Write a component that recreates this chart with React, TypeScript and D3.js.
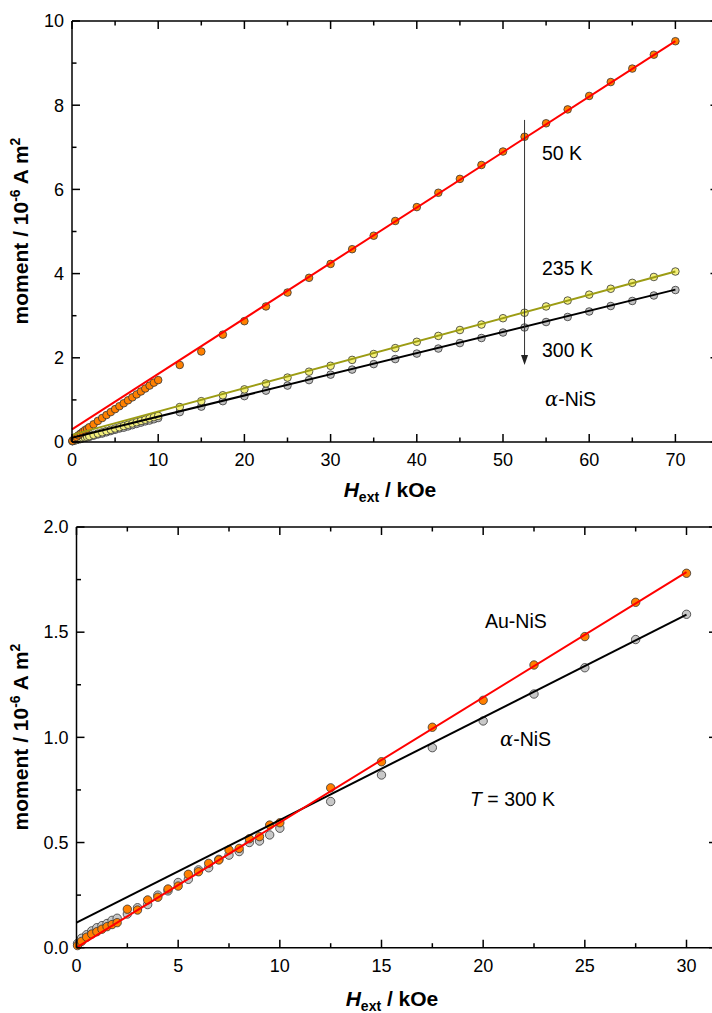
import React from 'react';
import * as d3 from 'd3';

// ---------- top panel (alpha-NiS, 50/235/300 K) ----------
const lowField = [0.05, 0.25, 0.5, 0.75, 1, 1.25, 1.5, 1.75, 2, 2.5, 3, 3.5, 4, 4.5, 5, 5.5, 6, 6.5, 7, 7.5, 8, 8.5, 9, 9.5, 10];
const highFieldTop = [12.5, 15, 17.5, 20, 22.5, 25, 27.5, 30, 32.5, 35, 37.5, 40, 42.5, 45, 47.5, 50, 52.5, 55, 57.5, 60, 62.5, 65, 67.5, 70];

const m50Low = [0.03, 0.07, 0.12, 0.16, 0.2, 0.24, 0.28, 0.31, 0.35, 0.42, 0.5, 0.57, 0.64, 0.71, 0.78, 0.85, 0.92, 0.99, 1.06, 1.13, 1.2, 1.27, 1.34, 1.41, 1.47];
const m50High = [1.83, 2.15, 2.55, 2.87, 3.22, 3.55, 3.9, 4.23, 4.58, 4.9, 5.25, 5.58, 5.92, 6.25, 6.58, 6.9, 7.25, 7.57, 7.9, 8.22, 8.55, 8.87, 9.2, 9.52];
const m235Low = [0.02, 0.04, 0.05, 0.07, 0.08, 0.1, 0.11, 0.12, 0.14, 0.17, 0.2, 0.23, 0.26, 0.29, 0.32, 0.35, 0.38, 0.41, 0.44, 0.47, 0.5, 0.53, 0.56, 0.59, 0.62];
const m235High = [0.83, 0.97, 1.11, 1.25, 1.39, 1.53, 1.67, 1.81, 1.95, 2.09, 2.23, 2.38, 2.52, 2.66, 2.79, 2.94, 3.07, 3.22, 3.36, 3.5, 3.64, 3.78, 3.92, 4.05];
const m300Low = [0.02, 0.03, 0.05, 0.06, 0.07, 0.09, 0.1, 0.11, 0.12, 0.15, 0.18, 0.2, 0.23, 0.26, 0.29, 0.32, 0.34, 0.37, 0.4, 0.43, 0.46, 0.49, 0.51, 0.54, 0.57];
const m300High = [0.71, 0.84, 0.97, 1.09, 1.22, 1.34, 1.47, 1.6, 1.72, 1.85, 1.97, 2.1, 2.22, 2.35, 2.47, 2.6, 2.72, 2.85, 2.97, 3.1, 3.23, 3.35, 3.48, 3.61];

// linear fits: [H, moment] endpoints
const fit50: [number, number][] = [[0, 0.3], [70, 9.52]];
const fit235: [number, number][] = [[0, 0.17], [70, 4.05]];
const fit300: [number, number][] = [[0, 0.1], [70, 3.62]];

const topXTicks = [0, 10, 20, 30, 40, 50, 60, 70];
const topYTicks = [0, 2, 4, 6, 8, 10];
const arrowSpan: [number, number, number] = [52.5, 7.65, 1.83];

// ---------- bottom panel (300 K, Au-NiS vs alpha-NiS) ----------
const highFieldBottom = [12.5, 15, 17.5, 20, 22.5, 25, 27.5, 30];
const auLow = [0.01, 0.03, 0.05, 0.065, 0.076, 0.088, 0.1, 0.11, 0.119, 0.183, 0.179, 0.227, 0.24, 0.279, 0.293, 0.349, 0.361, 0.401, 0.417, 0.465, 0.472, 0.518, 0.528, 0.583, 0.594];
const auHigh = [0.76, 0.884, 1.048, 1.176, 1.344, 1.479, 1.642, 1.78];
const alphaLow = [0.02, 0.045, 0.062, 0.08, 0.095, 0.105, 0.115, 0.13, 0.14, 0.16, 0.19, 0.205, 0.25, 0.27, 0.31, 0.325, 0.37, 0.38, 0.42, 0.44, 0.457, 0.5, 0.507, 0.536, 0.568];
const alphaHigh = [0.695, 0.821, 0.951, 1.078, 1.206, 1.331, 1.465, 1.585];

const fitAu: [number, number][] = [[0, 0.0], [30, 1.785]];
const fitAlpha: [number, number][] = [[0, 0.119], [30, 1.583]];

const botXTicks = [0, 5, 10, 15, 20, 25, 30];
const botYTicks = [0, 0.5, 1.0, 1.5, 2.0];

const FONT = "Arial, 'Liberation Sans', Helvetica, sans-serif";

type Pt = [number, number];
const zip = (xs: number[], ys: number[]): Pt[] => xs.map((x, i) => [x, ys[i]]);

interface FrameProps {
  x: d3.ScaleLinear<number, number>;
  y: d3.ScaleLinear<number, number>;
  xMajor: number[];
  xMinorStep: number;
  yMajor: number[];
  yMinorStep: number;
  yFmt: (v: number) => string;
}

function Frame({ x, y, xMajor, xMinorStep, yMajor, yMinorStep, yFmt }: FrameProps) {
  const [x0, x1] = x.range();
  const [y0, y1] = y.range(); // y0 bottom, y1 top
  const [dx0, dx1] = x.domain();
  const [dy0, dy1] = y.domain();
  const xMinor = d3.range(dx0, dx1 + 1e-9, xMinorStep).filter(v => !xMajor.some(m => Math.abs(m - v) < 1e-9));
  const yMinor = d3.range(dy0, dy1 + 1e-9, yMinorStep).filter(v => !yMajor.some(m => Math.abs(m - v) < 1e-9));
  const xMajorAll = d3.range(dx0, dx1 + 1e-9, xMajor[1] - xMajor[0]);
  const maj = 8, min = 4.5;
  const sw = 1.5;
  return (
    <g stroke="#000" strokeWidth={sw} fill="none">
      <line x1={x0} x2={x1} y1={y0} y2={y0} />
      <line x1={x0} x2={x1} y1={y1} y2={y1} />
      <line x1={x0} x2={x0} y1={y0} y2={y1} />
      <line x1={x1} x2={x1} y1={y0} y2={y1} />
      {xMajorAll.map(v => (
        <g key={'xM' + v}>
          <line x1={x(v)} x2={x(v)} y1={y0} y2={y0 - maj} />
          <line x1={x(v)} x2={x(v)} y1={y1} y2={y1 + maj} />
        </g>
      ))}
      {xMinor.map(v => (
        <g key={'xm' + v}>
          <line x1={x(v)} x2={x(v)} y1={y0} y2={y0 - min} />
          <line x1={x(v)} x2={x(v)} y1={y1} y2={y1 + min} />
        </g>
      ))}
      {yMajor.map(v => (
        <g key={'yM' + v}>
          <line x1={x0} x2={x0 + maj} y1={y(v)} y2={y(v)} />
          <line x1={x1} x2={x1 - maj} y1={y(v)} y2={y(v)} />
        </g>
      ))}
      {yMinor.map(v => (
        <g key={'ym' + v}>
          <line x1={x0} x2={x0 + min} y1={y(v)} y2={y(v)} />
          <line x1={x1} x2={x1 - min} y1={y(v)} y2={y(v)} />
        </g>
      ))}
      <g stroke="none" fill="#000" fontFamily={FONT} fontSize={18}>
        {xMajor.map(v => (
          <text key={'xl' + v} x={x(v)} y={y0 + 24} textAnchor="middle">{String(v)}</text>
        ))}
        {yMajor.map(v => (
          <text key={'yl' + v} x={x0 - 8} y={y(v)} dy="0.35em" textAnchor="end">{yFmt(v)}</text>
        ))}
      </g>
    </g>
  );
}

function Markers({ pts, x, y, fill, r }: { pts: Pt[]; x: any; y: any; fill: string; r: number }) {
  return (
    <g fill={fill} stroke="#333" strokeWidth={0.8}>
      {pts.map((p, i) => <circle key={i} cx={x(p[0])} cy={y(p[1])} r={r} />)}
    </g>
  );
}

function FitLine({ pts, x, y, color }: { pts: Pt[]; x: any; y: any; color: string }) {
  const gen = d3.line<Pt>().x(d => x(d[0])).y(d => y(d[1]));
  return <path d={gen(pts) || ''} stroke={color} strokeWidth={2} fill="none" />;
}

function YTitle({ cx, cy }: { cx: number; cy: number }) {
  return (
    <text transform={`translate(${cx},${cy}) rotate(-90)`} textAnchor="middle" fontFamily={FONT} fontWeight="bold" fontSize={21}>
      moment / 10<tspan fontSize={14} dy={-8}>-6</tspan><tspan dy={8}> A m</tspan><tspan fontSize={14} dy={-8}>2</tspan>
    </text>
  );
}

function XTitle({ cx, y }: { cx: number; y: number }) {
  return (
    <text x={cx} y={y} textAnchor="middle" fontFamily={FONT} fontWeight="bold" fontSize={21}>
      <tspan fontStyle="italic">H</tspan><tspan fontSize={14} dy={5}>ext</tspan><tspan dy={-5}> / kOe</tspan>
    </text>
  );
}

export default function App() {
  // top panel scales
  const xT = d3.scaleLinear().domain([0, 75]).range([72, 718.5]);
  const yT = d3.scaleLinear().domain([0, 10]).range([442, 21]);
  // bottom panel scales
  const xB = d3.scaleLinear().domain([0, 31.5]).range([76.5, 717]);
  const yB = d3.scaleLinear().domain([0, 2]).range([947.7, 527]);

  const p300 = [...zip(lowField, m300Low), ...zip(highFieldTop, m300High)];
  const p235 = [...zip(lowField, m235Low), ...zip(highFieldTop, m235High)];
  const p50 = [...zip(lowField, m50Low), ...zip(highFieldTop, m50High)];
  const pAlpha = [...zip(lowField, alphaLow), ...zip(highFieldBottom, alphaHigh)];
  const pAu = [...zip(lowField, auLow), ...zip(highFieldBottom, auHigh)];

  const ax = xT(arrowSpan[0]);
  const ayTop = yT(arrowSpan[1]);
  const ayBot = yT(arrowSpan[2]);

  return (
    <svg width={712} height={1013} viewBox="0 0 712 1013" style={{ position: 'absolute', left: 0, top: 0, background: '#fff' }}>
      <rect width={712} height={1013} fill="#fff" />
      {/* top panel */}
      <Markers pts={p300} x={xT} y={yT} fill="#c0c0c0" r={3.8} />
      <Markers pts={p235} x={xT} y={yT} fill="#f4f07c" r={3.8} />
      <Markers pts={p50} x={xT} y={yT} fill="#ff8000" r={3.8} />
      <FitLine pts={fit300} x={xT} y={yT} color="#000" />
      <FitLine pts={fit235} x={xT} y={yT} color="#9c9c14" />
      <FitLine pts={fit50} x={xT} y={yT} color="#ff0000" />
      <line x1={ax} x2={ax} y1={ayTop} y2={ayBot - 9} stroke="#333" strokeWidth={1} />
      <path d={`M${ax - 3.5},${ayBot - 10} L${ax + 3.5},${ayBot - 10} L${ax},${ayBot} Z`} fill="#222" />
      <g fontFamily={FONT} fontSize={19.5} fill="#000">
        <text x={542} y={160}>50 K</text>
        <text x={542} y={275}>235 K</text>
        <text x={542} y={357}>300 K</text>
        <text x={545} y={406}><tspan fontStyle="italic" fontFamily="'DejaVu Serif', 'Liberation Serif', serif">α</tspan>-NiS</text>
      </g>
      <Frame x={xT} y={yT} xMajor={topXTicks} xMinorStep={5} yMajor={topYTicks} yMinorStep={1} yFmt={v => String(v)} />
      <YTitle cx={28} cy={231} />
      <XTitle cx={390} y={497} />

      {/* bottom panel */}
      <Markers pts={pAlpha} x={xB} y={yB} fill="#c8c8c8" r={4.2} />
      <Markers pts={pAu} x={xB} y={yB} fill="#ff8000" r={4.2} />
      <FitLine pts={fitAlpha} x={xB} y={yB} color="#000" />
      <FitLine pts={fitAu} x={xB} y={yB} color="#ff0000" />
      <g fontFamily={FONT} fontSize={19.5} fill="#000">
        <text x={485} y={628}>Au-NiS</text>
        <text x={500} y={746}><tspan fontStyle="italic" fontFamily="'DejaVu Serif', 'Liberation Serif', serif">α</tspan>-NiS</text>
        <text x={470} y={806}><tspan fontStyle="italic">T</tspan> = 300 K</text>
      </g>
      <Frame x={xB} y={yB} xMajor={botXTicks} xMinorStep={2.5} yMajor={botYTicks} yMinorStep={0.25} yFmt={v => v.toFixed(1)} />
      <YTitle cx={28} cy={737} />
      <XTitle cx={392} y={1006} />
    </svg>
  );
}
